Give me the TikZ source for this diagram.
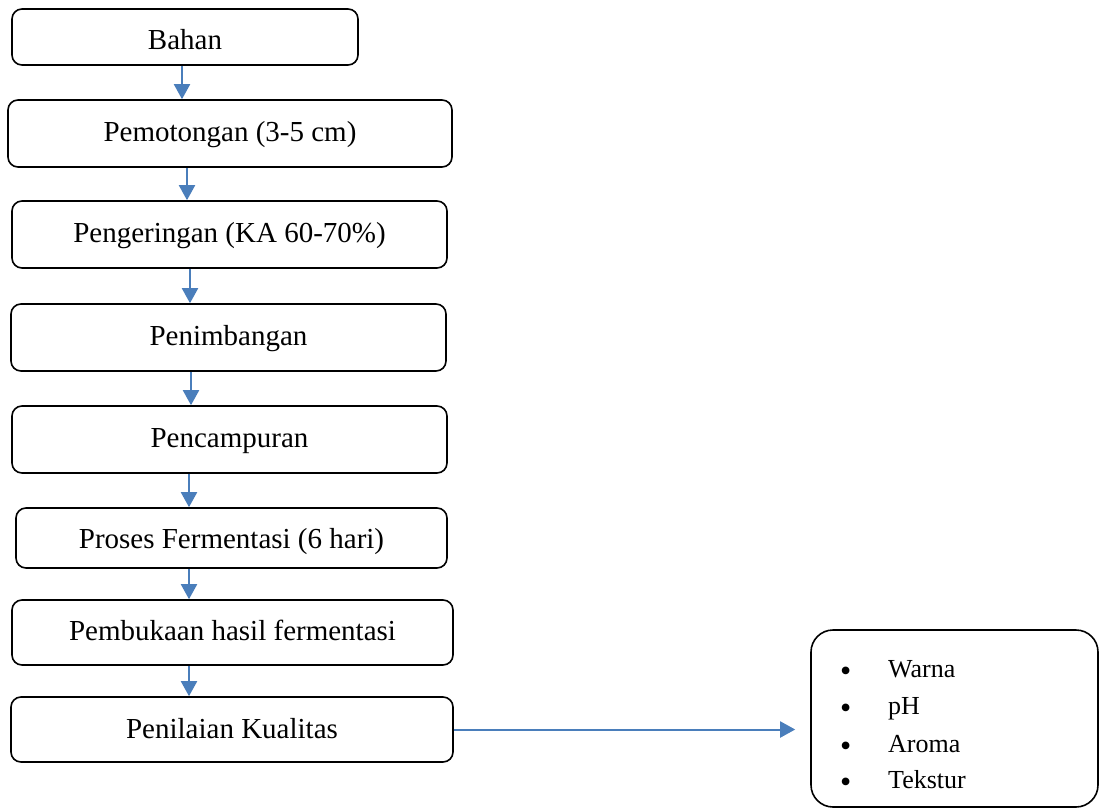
\documentclass[tikz,border=0pt]{standalone}
\usepackage{fontspec}
\setmainfont{Liberation Serif}
\usetikzlibrary{arrows.meta}
\definecolor{arrblue}{RGB}{74,126,187}
\tikzset{
  stepbox/.style={draw=black, line width=1.6pt, rounded corners=10pt, inner sep=0pt,
    text height=22pt, text depth=6pt, align=center,
    font=\fontsize{29}{34}\selectfont},
  flowarr/.style={draw=arrblue, line width=2pt, -{Triangle[length=15pt,width=16pt]}},
  listtext/.style={anchor=base west, inner sep=0pt, font=\fontsize{26}{30}\selectfont},
  bulletmark/.style={anchor=base west, inner sep=0pt, text height=14pt, text depth=0pt,
    font=\fontsize{32}{32}\selectfont},
}
\begin{document}
\begin{tikzpicture}[x=1pt, y=-1pt]
\useasboundingbox (0,0) rectangle (1099,808);
\clip (0,0) rectangle (1099,808);
\node[stepbox, minimum width=346pt, minimum height=56pt, text height=32pt] (bahan) at (185,37) {Bahan};
\node[stepbox, minimum width=444pt, minimum height=67pt] (potong) at (230,133.5) {Pemotongan (3-5 cm)};
\node[stepbox, minimum width=435pt, minimum height=67pt] (kering) at (229.5,234.5) {Pengeringan (KA 60-70\%)};
\node[stepbox, minimum width=435pt, minimum height=67pt] (timbang) at (228.5,337.5) {Penimbangan};
\node[stepbox, minimum width=435pt, minimum height=67pt] (campur) at (229.5,439.5) {Pencampuran};
\node[stepbox, minimum width=431pt, minimum height=60pt, text height=26pt] (fermen) at (231.5,538) {Proses Fermentasi (6 hari)};
\node[stepbox, minimum width=441pt, minimum height=65pt] (buka) at (232.5,632.5) {Pembukaan hasil fermentasi};
\node[stepbox, minimum width=442pt, minimum height=65pt, text height=23pt] (nilai) at (232,729.5) {Penilaian Kualitas};
\node[draw=black, line width=1.6pt, rounded corners=22pt, minimum width=287pt, minimum height=177pt, inner sep=0pt] (hasil) at (954.5,718.5) {};
% list
\node[bulletmark] (b1) at (840,681) {\textbullet};
\node[bulletmark] (b2) at (840,718) {\textbullet};
\node[bulletmark] (b3) at (840,756) {\textbullet};
\node[bulletmark] (b4) at (840,792) {\textbullet};
\node[listtext] (t1) at (888,677) {Warna};
\node[listtext] (t2) at (888,714) {pH};
\node[listtext] (t3) at (888,752) {Aroma};
\node[listtext] (t4) at (888,788) {Tekstur};
% arrows
\draw[flowarr] (bahan.south -| 182,0) -- (potong.north -| 182,0);
\draw[flowarr] (potong.south -| 187,0) -- (kering.north -| 187,0);
\draw[flowarr] (kering.south -| 190,0) -- (timbang.north -| 190,0);
\draw[flowarr] (timbang.south -| 191,0) -- (campur.north -| 191,0);
\draw[flowarr] (campur.south -| 189,0) -- (fermen.north -| 189,0);
\draw[flowarr] (fermen.south -| 189,0) -- (buka.north -| 189,0);
\draw[flowarr] (buka.south -| 189,0) -- (nilai.north -| 189,0);
\draw[flowarr] (nilai.east) -- ([xshift=-15pt]hasil.west |- nilai.east);
\end{tikzpicture}
\end{document}
